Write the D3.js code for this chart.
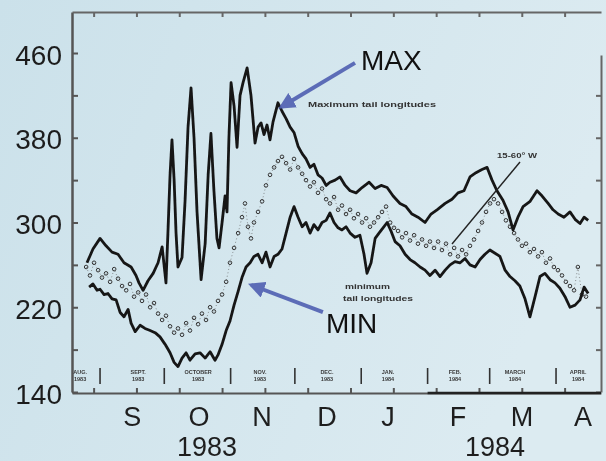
<!DOCTYPE html>
<html>
<head>
<meta charset="utf-8">
<script src="https://cdn.jsdelivr.net/npm/d3@7/dist/d3.min.js"></script>
<style>
  body { margin: 0; }
  svg { display: block; font-family: "Liberation Sans", Arial, sans-serif; }
</style>
</head>
<body>
<div id="chart"></div>
<script>
// days counted from 1 Aug 1983
let maxTail = [
  [24.9, 262], [27.7, 275], [31.0, 285], [33.8, 278], [36.6, 272], [39.4, 270], [42.2, 262],
  [45.5, 258], [47.8, 250], [49.2, 243], [51.1, 236], [53.4, 245], [55.8, 252], [58.1, 262],
  [60.0, 277], [61.8, 243], [62.7, 290], [63.7, 345], [64.6, 378], [65.6, 340], [66.5, 290],
  [67.4, 258], [69.3, 267], [70.7, 320], [72.1, 390], [73.5, 427], [74.9, 380], [76.3, 310],
  [78.2, 246], [80.1, 280], [81.5, 345], [82.8, 384], [84.2, 330], [85.6, 285], [86.6, 276],
  [88.0, 300], [89.4, 325], [90.3, 310], [91.2, 380], [92.2, 432], [93.6, 410], [95.0, 371],
  [96.4, 420], [97.8, 432], [99.7, 446], [101.5, 420], [103.4, 375], [104.8, 390], [106.2, 394],
  [107.6, 383], [109.0, 392], [110.4, 378], [111.8, 395], [114.1, 413], [116.0, 405], [117.9, 398],
  [119.8, 390], [121.6, 385], [123.5, 372], [125.4, 365], [127.2, 360], [129.1, 352], [130.9, 355],
  [132.8, 345], [134.7, 342], [136.6, 335], [138.4, 338], [140.8, 340], [143.1, 343], [145.5, 335],
  [147.8, 330], [150.6, 328], [153.4, 333], [156.7, 338], [159.5, 332], [162.3, 335], [165.1, 333],
  [167.9, 325], [171.1, 318], [173.9, 315], [176.7, 308], [179.5, 305], [182.8, 300], [185.6, 308],
  [188.4, 312], [192.2, 318], [195.4, 322], [198.2, 328], [201.0, 330], [203.8, 343], [206.6, 347],
  [209.4, 350], [211.8, 352], [214.1, 340], [216.4, 330], [219.2, 321], [221.6, 310], [223.9, 293],
  [226.2, 305], [228.6, 315], [231.9, 320], [235.1, 330], [237.5, 325], [240.3, 318], [242.6, 312],
  [245.0, 308], [247.7, 305], [250.5, 310], [252.9, 303], [255.2, 299], [257.1, 305], [259.0, 302]
];

let minTail = [
  [25.9, 239], [27.7, 242], [29.6, 236], [31.0, 237], [32.9, 232], [34.7, 233], [36.6, 228],
  [38.5, 227], [40.4, 215], [42.2, 211], [44.1, 218], [45.5, 205], [47.4, 197], [49.7, 203],
  [52.0, 200], [54.4, 198], [56.7, 196], [59.0, 192], [61.4, 185], [63.7, 177], [65.6, 168],
  [67.4, 164], [69.3, 172], [71.2, 177], [73.0, 170], [75.4, 176], [77.7, 177], [80.1, 172],
  [82.4, 178], [84.7, 170], [86.1, 175], [88.0, 185], [89.9, 198], [91.7, 207], [93.6, 222],
  [95.5, 235], [97.3, 248], [99.2, 258], [101.1, 262], [102.9, 268], [104.8, 270], [106.7, 262],
  [108.5, 272], [110.4, 258], [112.3, 268], [114.1, 270], [116.0, 275], [117.9, 290], [119.8, 305],
  [121.6, 315], [123.5, 305], [125.4, 296], [127.2, 300], [129.1, 290], [130.9, 298], [132.8, 293],
  [134.7, 300], [136.6, 302], [138.4, 309], [140.3, 300], [142.2, 295], [144.0, 293], [145.9, 296],
  [147.8, 290], [150.1, 286], [152.4, 288], [154.3, 270], [155.7, 252], [157.6, 262], [159.5, 285],
  [161.3, 290], [163.2, 295], [165.1, 300], [166.9, 292], [168.8, 282], [171.1, 278], [173.5, 270],
  [175.8, 265], [178.1, 262], [180.5, 258], [182.8, 255], [185.1, 250], [187.5, 255], [189.8, 249],
  [192.2, 255], [194.5, 260], [196.8, 263], [199.2, 262], [201.5, 266], [203.8, 260], [206.2, 258],
  [208.5, 265], [210.8, 270], [213.1, 274], [215.5, 271], [217.8, 268], [220.2, 255], [222.5, 249],
  [224.8, 245], [227.1, 240], [229.5, 228], [231.8, 211], [234.2, 230], [236.5, 249], [238.8, 252],
  [241.2, 246], [243.5, 243], [245.8, 238], [248.2, 230], [250.5, 220], [252.9, 222], [255.2, 227],
  [257.1, 239], [259.0, 233]
];

// "15-60° W" points
let westDots = [
  [24.5, 258], [26.3, 250], [28.2, 262], [30.1, 255], [31.9, 248], [33.8, 252], [35.7, 244],
  [37.6, 256], [39.4, 247], [41.3, 240], [43.2, 236], [45.0, 242], [46.9, 230], [48.8, 234],
  [50.6, 226], [52.5, 232], [54.4, 220], [56.2, 224], [58.1, 214], [60.0, 208], [61.8, 212],
  [63.7, 202], [65.6, 196], [67.4, 200], [69.3, 194], [71.2, 205], [73.0, 198], [74.9, 210],
  [76.8, 204], [78.6, 214], [80.5, 208], [82.4, 220], [84.2, 216], [86.1, 226], [88.0, 232],
  [89.9, 244], [91.7, 262], [93.6, 276], [95.5, 290], [97.3, 305], [98.7, 318], [100.1, 296],
  [101.5, 285], [102.9, 300], [104.8, 310], [106.7, 320], [108.5, 335], [110.4, 345], [112.3, 352],
  [114.1, 358], [116.0, 362], [117.9, 356], [119.8, 350], [121.6, 360], [123.5, 352], [125.4, 346],
  [127.2, 340], [129.1, 334], [130.9, 338], [132.8, 328], [134.7, 332], [136.6, 322], [138.4, 318],
  [140.3, 324], [142.2, 312], [144.0, 316], [145.9, 308], [147.8, 312], [149.6, 304], [151.5, 308],
  [153.4, 300], [155.3, 304], [157.1, 296], [159.0, 300], [160.9, 305], [162.7, 310], [164.6, 315],
  [166.5, 300], [168.3, 295], [170.2, 292], [172.1, 286], [173.9, 290], [175.8, 283], [177.7, 288],
  [179.5, 280], [181.4, 284], [183.3, 278], [185.1, 282], [187.0, 276], [188.9, 282], [190.7, 274],
  [192.6, 280], [194.5, 270], [196.4, 276], [198.2, 268], [200.1, 274], [202.0, 270], [203.8, 278],
  [205.7, 284], [207.6, 292], [209.4, 300], [211.3, 310], [213.2, 318], [215.0, 322], [216.9, 318],
  [218.8, 310], [220.6, 302], [222.5, 296], [224.4, 290], [226.2, 284], [228.1, 278], [230.0, 280],
  [231.8, 272], [233.7, 275], [235.6, 268], [237.4, 272], [239.3, 262], [241.2, 266], [243.0, 258],
  [244.9, 255], [246.8, 250], [248.6, 244], [250.5, 240], [252.4, 236], [254.2, 258], [256.1, 232],
  [258.0, 230]
];

// axis data
let yTicks = [140, 180, 220, 260, 300, 340, 380, 420, 460];
let yLabels = [140, 220, 300, 380, 460];
let edgeTicks = [28, 48, 68, 88, 108, 128, 148, 168, 188, 208, 228, 248];
let monthStarts = [31, 61, 92, 122, 153, 184, 213, 244];
let monthLetters = ["S", "O", "N", "D", "J", "F", "M", "A"];
let monthLetterDays = [46.0, 77.2, 106.7, 137.0, 165.5, 198.2, 228.1, 256.6];
let years = ["1983", "1984"];
let yearDays = [81.0, 215.5];
let stripNames = [["AUG.", "1983"], ["SEPT.", "1983"], ["OCTOBER", "1983"], ["NOV.", "1983"],
                  ["DEC.", "1983"], ["JAN.", "1984"], ["FEB.", "1984"], ["MARCH", "1984"], ["APRIL", "1984"]];
let stripDays = [21.7, 48.8, 76.8, 105.7, 137.0, 165.5, 196.8, 224.8, 254.3];

let W = 606, H = 461;
let plot = {left: 72, right: 601, top: 12, bottom: 392};

let svg = d3.select("#chart")
            .append("svg")
            .attr("width", W)
            .attr("height", H);

let defs = svg.append("defs");
let grad = defs.append("linearGradient")
               .attr("id", "bg")
               .attr("x1", 0).attr("y1", 0)
               .attr("x2", 1).attr("y2", 0.3);
grad.append("stop").attr("offset", "0%").attr("stop-color", "#cbe1ea");
grad.append("stop").attr("offset", "100%").attr("stop-color", "#dcebf1");

defs.append("filter")
    .attr("id", "soft")
    .append("feGaussianBlur")
    .attr("stdDeviation", 0.5);

defs.append("marker")
    .attr("id", "head")
    .attr("viewBox", "0 0 10 10")
    .attr("refX", 8).attr("refY", 5)
    .attr("markerWidth", 4.2).attr("markerHeight", 4.2)
    .attr("orient", "auto")
    .append("path")
    .attr("d", "M0,0 L10,5 L0,10 z")
    .attr("fill", "#5262b2");

svg.append("rect")
   .attr("width", W).attr("height", H)
   .attr("fill", "url(#bg)");

let xScale = d3.scaleLinear()
               .domain([17.9, 265])
               .range([plot.left, plot.right]);

let yScale = d3.scaleLinear()
               .domain([140, 498.7])
               .range([plot.bottom, plot.top]);

let g = svg.append("g").attr("filter", "url(#soft)");

// frame: left axis with labels
let yAxis = g.append("g")
             .attr("transform", `translate(${plot.left},0)`)
             .call(d3.axisLeft(yScale)
                     .tickValues(yTicks)
                     .tickSize(-6)
                     .tickSizeOuter(0)
                     .tickPadding(10)
                     .tickFormat(d => yLabels.includes(d) ? d : ""));
yAxis.select(".domain").attr("stroke", "#555").attr("stroke-width", 2.5);
yAxis.selectAll(".tick line").attr("stroke", "#555").attr("stroke-width", 2);
yAxis.selectAll(".tick text")
     .attr("font-size", 28)
     .attr("font-family", "'Liberation Sans', Arial, sans-serif")
     .attr("fill", "#1e1e1e")
     .attr("dy", "0.40em");

// right border (starts a little below the top on the scan)
let yRight = d3.scaleLinear().domain([140, 458]).range([plot.bottom, yScale(458)]);
let rAxis = g.append("g")
             .attr("transform", `translate(${plot.right},0)`)
             .call(d3.axisRight(yRight)
                     .tickValues(yTicks.filter(d => d < 458))
                     .tickSize(-5)
                     .tickSizeOuter(0)
                     .tickFormat(""));
rAxis.selectAll("path, line").attr("stroke", "#666").attr("stroke-width", 2);

// top and bottom edges
let tAxis = g.append("g")
             .attr("transform", `translate(0,${plot.top})`)
             .call(d3.axisTop(xScale).tickValues(edgeTicks).tickSize(-5).tickSizeOuter(0).tickFormat(""));
tAxis.selectAll("path, line").attr("stroke", "#666").attr("stroke-width", 2);

let bAxis = g.append("g")
             .attr("transform", `translate(0,${plot.bottom + 1})`)
             .call(d3.axisBottom(xScale).tickValues(edgeTicks).tickSize(-5).tickSizeOuter(0).tickFormat(""));
bAxis.selectAll("path, line").attr("stroke", "#555").attr("stroke-width", 2);

g.append("line")
 .attr("x1", xScale(monthStarts[5])).attr("x2", plot.right)
 .attr("y1", plot.bottom + 1).attr("y2", plot.bottom + 1)
 .attr("stroke", "#222").attr("stroke-width", 2.6);

// month strip inside the plot
g.selectAll(".sep")
 .data(monthStarts)
 .enter()
 .append("line")
 .attr("class", "sep")
 .attr("x1", d => xScale(d)).attr("x2", d => xScale(d))
 .attr("y1", 368).attr("y2", 384)
 .attr("stroke", "#333")
 .attr("stroke-width", 1.6);

let strip = g.selectAll(".strip")
             .data(stripNames)
             .enter()
             .append("text")
             .attr("class", "strip")
             .attr("text-anchor", "middle")
             .attr("font-size", 5.5)
             .attr("font-weight", "bold")
             .attr("fill", "#3a3a3a")
             .attr("x", (d, i) => xScale(stripDays[i]))
             .attr("y", 374);
strip.append("tspan").text(d => d[0]);
strip.append("tspan")
     .attr("x", (d, i) => xScale(stripDays[i]))
     .attr("dy", 6.5)
     .text(d => d[1]);

// series
let line = d3.line()
             .x(d => xScale(d[0]))
             .y(d => yScale(d[1]));

g.append("path")
 .datum(westDots)
 .attr("d", line)
 .attr("fill", "none")
 .attr("stroke", "#666")
 .attr("stroke-width", 0.7)
 .attr("stroke-dasharray", "1,2.5");

g.selectAll(".dot")
 .data(westDots)
 .enter()
 .append("circle")
 .attr("class", "dot")
 .attr("cx", d => xScale(d[0]))
 .attr("cy", d => yScale(d[1]))
 .attr("r", 1.8)
 .attr("fill", "none")
 .attr("stroke", "#333")
 .attr("stroke-width", 1);

[maxTail, minTail].forEach(s => {
  g.append("path")
   .datum(s)
   .attr("d", line)
   .attr("fill", "none")
   .attr("stroke", "#161616")
   .attr("stroke-width", 2.8)
   .attr("stroke-linejoin", "round");
});

// small labels from the original figure
let note = (txt, x, y, len) => g.append("text")
  .attr("x", x).attr("y", y)
  .attr("font-size", 8)
  .attr("font-weight", "bold")
  .attr("fill", "#333")
  .attr("textLength", len)
  .attr("lengthAdjust", "spacingAndGlyphs")
  .text(txt);
note("Maximum tail longitudes", 308, 107, 128);
note("15-60° W", 497, 158, 40);
note("minimum", 345, 289, 45);
note("tail longitudes", 343, 301, 70);

g.append("line")
 .attr("x1", 520).attr("y1", 162)
 .attr("x2", 452).attr("y2", 244)
 .attr("stroke", "#222").attr("stroke-width", 1.4);

// month letters and years under the axis
svg.selectAll(".month")
   .data(monthLetters)
   .enter()
   .append("text")
   .attr("class", "month")
   .attr("text-anchor", "middle")
   .attr("font-size", 27)
   .attr("fill", "#1e1e1e")
   .attr("x", (d, i) => xScale(monthLetterDays[i]))
   .attr("y", 426)
   .text(d => d);

svg.selectAll(".year")
   .data(years)
   .enter()
   .append("text")
   .attr("class", "year")
   .attr("text-anchor", "middle")
   .attr("font-size", 27)
   .attr("fill", "#1e1e1e")
   .attr("x", (d, i) => xScale(yearDays[i]))
   .attr("y", 456)
   .text(d => d);

// MAX / MIN callouts
let callout = (label, tx, ty, from, to) => {
  svg.append("line")
     .attr("x1", xScale(from[0])).attr("y1", yScale(from[1]))
     .attr("x2", xScale(to[0])).attr("y2", yScale(to[1]))
     .attr("stroke", "#5262b2")
     .attr("stroke-width", 4)
     .attr("opacity", 0.92)
     .attr("marker-end", "url(#head)");
  svg.append("text")
     .attr("x", tx).attr("y", ty)
     .attr("font-size", 28)
     .attr("fill", "#111")
     .text(label);
};
callout("MAX", 361, 70, [150.1, 450.7], [115.6, 409]);
callout("MIN", 326, 333, [135.1, 215.5], [101.6, 241]);
</script>
</body>
</html>
